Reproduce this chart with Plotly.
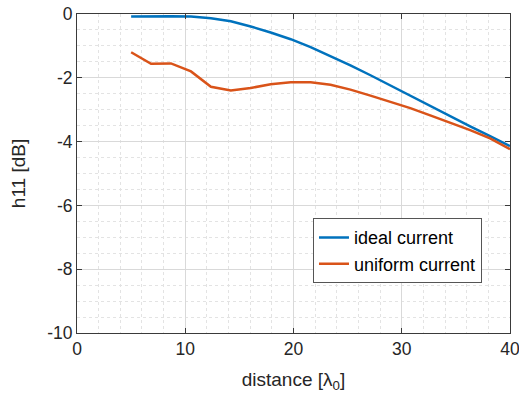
import plotly.graph_objects as go

distance = [5, 6.84, 8.68, 10.53, 12.37, 14.21, 16.05, 17.89, 19.74, 21.58,
            23.42, 25.26, 27.11, 28.95, 30.79, 32.63, 34.47, 36.32, 38.16, 40]
ideal_current = [-0.08, -0.07, -0.07, -0.08, -0.13, -0.23, -0.39, -0.58, -0.79, -1.04,
                 -1.32, -1.61, -1.92, -2.24, -2.57, -2.90, -3.21, -3.52, -3.83, -4.14]
uniform_current = [-1.20, -1.56, -1.55, -1.80, -2.28, -2.40, -2.32, -2.20, -2.14, -2.14,
                   -2.22, -2.37, -2.56, -2.76, -2.95, -3.18, -3.41, -3.64, -3.90, -4.24]

x_ticks = [0, 10, 20, 30, 40]
x_labels = ["0", "10", "20", "30", "40"]
y_ticks = [0, -2, -4, -6, -8, -10]
y_labels = ["0", "-2", "-4", "-6", "-8", "-10"]

FONT = "Liberation Sans, Arial, Helvetica, sans-serif"
TXT = "#262626"

fig = go.Figure()
fig.add_trace(go.Scatter(x=distance, y=ideal_current, mode="lines", name="ideal current",
                         line=dict(color="#0072BD", width=2.5)))
fig.add_trace(go.Scatter(x=distance, y=uniform_current, mode="lines", name="uniform current",
                         line=dict(color="#D95319", width=2.5)))

axis_common = dict(
    showline=True, linecolor="#3a3a3a", linewidth=1, mirror="allticks",
    ticks="inside", ticklen=5, tickcolor="#3a3a3a",
    showgrid=True, gridcolor="#d9d9d9", gridwidth=1,
    zeroline=False, automargin=False, ticklabeloverflow="allow",
    tickfont=dict(family=FONT, size=17.5, color=TXT),
)

fig.update_xaxes(range=[0, 40], tickvals=x_ticks, ticktext=x_labels,
                 title=dict(text="distance [λ<sub>0</sub>]", font=dict(family=FONT, size=19, color=TXT), standoff=14),
                 minor=dict(dtick=2, showgrid=True, gridcolor="#e3e3e3", griddash="dot", ticks=""),
                 **axis_common)
fig.update_yaxes(range=[-10, 0], tickvals=y_ticks, ticktext=y_labels,
                 title=dict(text="h11 [dB]", font=dict(family=FONT, size=19, color=TXT), standoff=16),
                 minor=dict(dtick=0.5, showgrid=True, gridcolor="#e3e3e3", griddash="dot", ticks=""),
                 **axis_common)

fig.update_layout(
    width=519, height=400,
    margin=dict(l=77, r=9, t=14, b=67),
    paper_bgcolor="white", plot_bgcolor="white",
    font=dict(family=FONT, color=TXT),
    legend=dict(x=0.545, y=0.258, xanchor="left", yanchor="middle",
                bgcolor="white", bordercolor="#555555", borderwidth=1,
                font=dict(family=FONT, size=18, color="#000000"),
                tracegroupgap=0, itemwidth=30),
    showlegend=True,
)

fig.write_html("out.html")
